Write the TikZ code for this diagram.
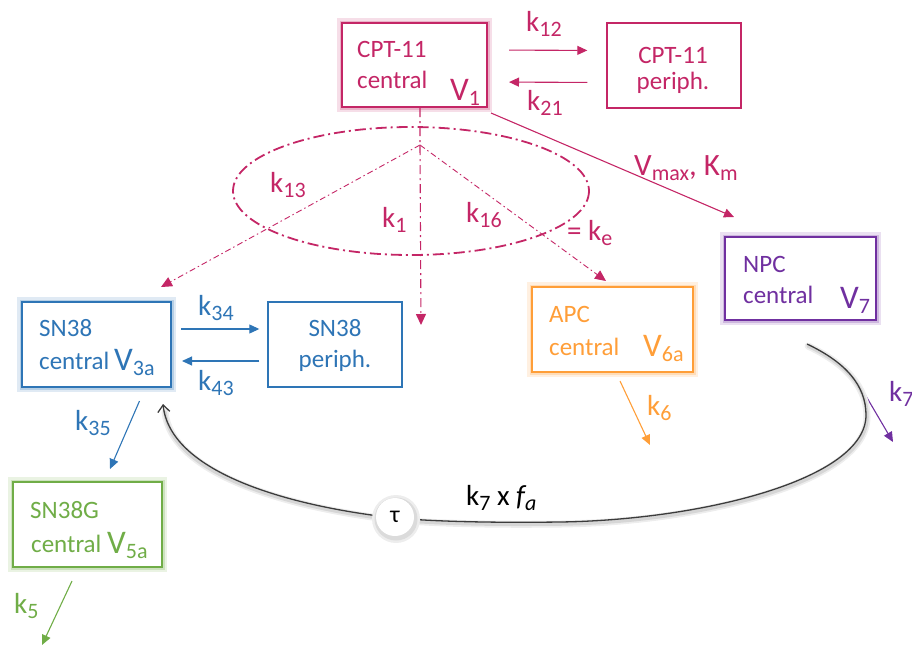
\documentclass[tikz,border=0pt]{standalone}
\usepackage{fontspec}
\setmainfont{Carlito}
\usetikzlibrary{arrows.meta,calc}
\definecolor{cpt}{RGB}{196,38,102}
\definecolor{snb}{RGB}{46,117,182}
\definecolor{sng}{RGB}{112,173,71}
\definecolor{apco}{RGB}{255,158,56}
\definecolor{npcp}{RGB}{112,48,160}
\definecolor{gcurve}{RGB}{60,60,60}
\newcommand\sbx[1]{\raisebox{-5pt}{\fontsize{22}{22}\selectfont #1}}
\newcommand\bigV[1]{{\fontsize{33}{33}\selectfont V}\sbx{#1}}
\begin{document}
\begin{tikzpicture}[x=1pt,y=-1pt,
  glowbox/.style={draw=#1, line width=2pt, fill=white, inner sep=0pt,
    preaction={draw=#1!15, line width=10pt}, preaction={draw=#1!35, line width=5pt}},
  plainbox/.style={draw=#1, line width=1.4pt, fill=white, inner sep=0pt},
  btxt/.style={font=\fontsize{25}{25}\selectfont, inner sep=0pt, anchor=base west, text=#1},
  ctxt/.style={font=\fontsize{25}{25}\selectfont, inner sep=0pt, anchor=base, text=#1},
  ktxt/.style={font=\fontsize{29}{29}\selectfont, inner sep=0pt, anchor=base west, text=#1},
  arr/.style={draw=#1, line width=1.1pt, -{Triangle[length=10pt,width=9pt]}},
  ddot/.style={draw=cpt, line width=0.9pt, dash pattern=on 6pt off 3pt on 1.5pt off 3pt},
  ddotv/.style={draw=cpt, line width=1.1pt, dash pattern=on 9pt off 4pt on 2pt off 4pt},
  tipc/.style={-{Triangle[length=11pt,width=10pt]}},
  gshadow/.style={line cap=round, transform canvas={xshift=1pt,yshift=-2pt}}
]
\useasboundingbox (0,0) rectangle (912,648);

% boxes
\node[glowbox=cpt, minimum width=145pt, minimum height=84pt] (cptc) at (414.5,65) {};
\node[plainbox=cpt, minimum width=134pt, minimum height=85pt] (cptp) at (674,65.5) {};
\node[glowbox=snb, minimum width=149pt, minimum height=85pt] (sn38c) at (96.5,344.5) {};
\node[plainbox=snb, minimum width=134pt, minimum height=85pt] (sn38p) at (335,344.5) {};
\node[glowbox=sng, minimum width=149pt, minimum height=85pt] (sn38g) at (87.5,524.5) {};
\node[glowbox=apco, minimum width=161pt, minimum height=85pt] (apc) at (612.5,329.5) {};
\node[glowbox=npcp, minimum width=151pt, minimum height=83pt] (npc) at (800.5,278.5) {};

% box texts
\node[btxt=cpt] (t1a) at (357,57) {CPT-11};
\node[btxt=cpt] (t1b) at (357,88) {central};
\node[btxt=cpt] (t1c) at (450,100) {\bigV{1}};
\node[ctxt=cpt] (t2a) at (673,63) {CPT-11};
\node[ctxt=cpt] (t2b) at (673,89) {periph.};
\node[btxt=snb] (t3a) at (39,336) {SN38};
\node[btxt=snb] (t3b) at (39,369) {central};
\node[btxt=snb] (t3c) at (114,370) {\bigV{3a}};
\node[ctxt=snb] (t4a) at (335,336) {SN38};
\node[ctxt=snb] (t4b) at (335,367) {periph.};
\node[btxt=sng] (t5a) at (30,518) {SN38G};
\node[btxt=sng] (t5b) at (31,552) {central};
\node[btxt=sng] (t5c) at (107,553) {\bigV{5a}};
\node[btxt=apco] (t6a) at (549,322) {APC};
\node[btxt=apco] (t6b) at (549,355) {central};
\node[btxt=apco] (t6c) at (643,356) {\bigV{6a}};
\node[btxt=npcp] (t7a) at (743,272) {NPC};
\node[btxt=npcp] (t7b) at (743,303) {central};
\node[btxt=npcp] (t7c) at (840,308) {\bigV{7}};

% CPT exchange
\draw[arr=cpt, shorten <=21pt, shorten >=19pt] ([yshift=15pt]cptc.east) -- ([yshift=15pt]cptp.west);
\draw[arr=cpt, shorten <=19pt, shorten >=21pt] ([yshift=-17pt]cptp.west) -- ([yshift=-17pt]cptc.east);
\node[ktxt=cpt] (k12) at (526,31) {k\sbx{12}};
\node[ktxt=cpt] (k21) at (527,110) {k\sbx{21}};

% Vmax Km
\draw[arr=cpt] ([xshift=3pt,yshift=-5pt]cptc.south east) -- ([xshift=10pt,yshift=19pt]npc.north west);
\node[ktxt=cpt, font=\fontsize{31}{31}\selectfont] (vm) at (634,175) {V\sbx{max}, K\sbx{m}};

% elimination ellipse
\draw[cpt, line width=1.8pt, dash pattern=on 11pt off 4pt on 2pt off 4pt] (411,191) ellipse [x radius=178, y radius=64];
\coordinate (J) at (420,145);
\coordinate (k1end) at (421,325);
\draw[ddotv, tipc] ([xshift=5.5pt]cptc.south) -- (J) -- (k1end);
\draw[ddot, tipc] (J) -- ([xshift=-11pt,yshift=14pt]sn38c.north east);
\draw[ddot, tipc] (J) -- ([xshift=-6.5pt,yshift=5pt]apc.north);
\node[ktxt=cpt] (k13) at (270,192) {k\sbx{13}};
\node[ktxt=cpt] (k1) at (382,227) {k\sbx{1}};
\node[ktxt=cpt] (k16) at (466,222) {k\sbx{16}};
\node[ktxt=cpt] (ke) at (567,240) {= k\sbx{e}};

% SN38 exchange
\draw[arr=snb, shorten <=9pt, shorten >=8pt] ([yshift=15.5pt]sn38c.east) -- ([yshift=15.5pt]sn38p.west);
\draw[arr=snb, shorten <=8pt, shorten >=10pt] ([yshift=-16.5pt]sn38p.west) -- ([yshift=-16.5pt]sn38c.east);
\node[ktxt=snb] (k34) at (198,315) {k\sbx{34}};
\node[ktxt=snb] (k43) at (198,390) {k\sbx{43}};

% SN38 -> SN38G
\draw[arr=snb] ([xshift=43pt,yshift=-13pt]sn38c.south) -- ([xshift=22.5pt,yshift=12pt]sn38g.north);
\node[ktxt=snb] (k35) at (75,430) {k\sbx{35}};

% eliminations
\coordinate (k5end) at (42,645);
\draw[arr=sng] ([xshift=-15.5pt,yshift=-13pt]sn38g.south) -- (k5end);
\node[ktxt=sng] (k5) at (14,613) {k\sbx{5}};
\coordinate (k6end) at (650,445);
\draw[arr=apco] ([xshift=7.5pt,yshift=-8pt]apc.south) -- (k6end);
\node[ktxt=apco] (k6) at (647,415) {k\sbx{6}};
\coordinate (k7end) at (893,442);
\draw[arr=npcp] ([xshift=-14pt,yshift=-70pt]npc.south east) -- (k7end);
\node[ktxt=npcp] (k7) at (889,401) {k\sbx{7}};

% NPC -> SN38 delayed conversion
\coordinate (gs) at ([xshift=6.5pt,yshift=-23pt]npc.south);
\coordinate (ge) at ([xshift=-9pt,yshift=-16pt]sn38c.south east);
\draw[black!7, line width=7pt, gshadow]
  (gs) .. controls (845,362) and (866,385) .. (866,415)
  .. controls (866,480) and (700,520) .. (560,522)
  .. controls (480,523) and (430,521) .. (395,518)
  .. controls (280,505) and (170,470) .. (164,410);
\draw[black!16, line width=3.5pt, gshadow]
  (gs) .. controls (845,362) and (866,385) .. (866,415)
  .. controls (866,480) and (700,520) .. (560,522)
  .. controls (480,523) and (430,521) .. (395,518)
  .. controls (280,505) and (170,470) .. (164,410);
\draw[gcurve, line width=1.3pt, -{Straight Barb[length=7pt,width=12pt]}]
  (gs) .. controls (845,362) and (866,385) .. (866,415)
  .. controls (866,480) and (700,520) .. (560,522)
  .. controls (480,523) and (430,521) .. (395,518)
  .. controls (280,505) and (170,470) .. (ge);
\fill[black!7] (396,519) circle (24);
\fill[black!14] (396,519) circle (21.5);
\node[circle, fill=white, minimum size=38pt, inner sep=0pt, font=\fontsize{24}{24}\selectfont] (tau) at (395,517) {τ};
\node[ktxt=black] (k7fa) at (466,505) {k\sbx{7} x \textit{f\sbx{a}}};
\end{tikzpicture}
\end{document}
